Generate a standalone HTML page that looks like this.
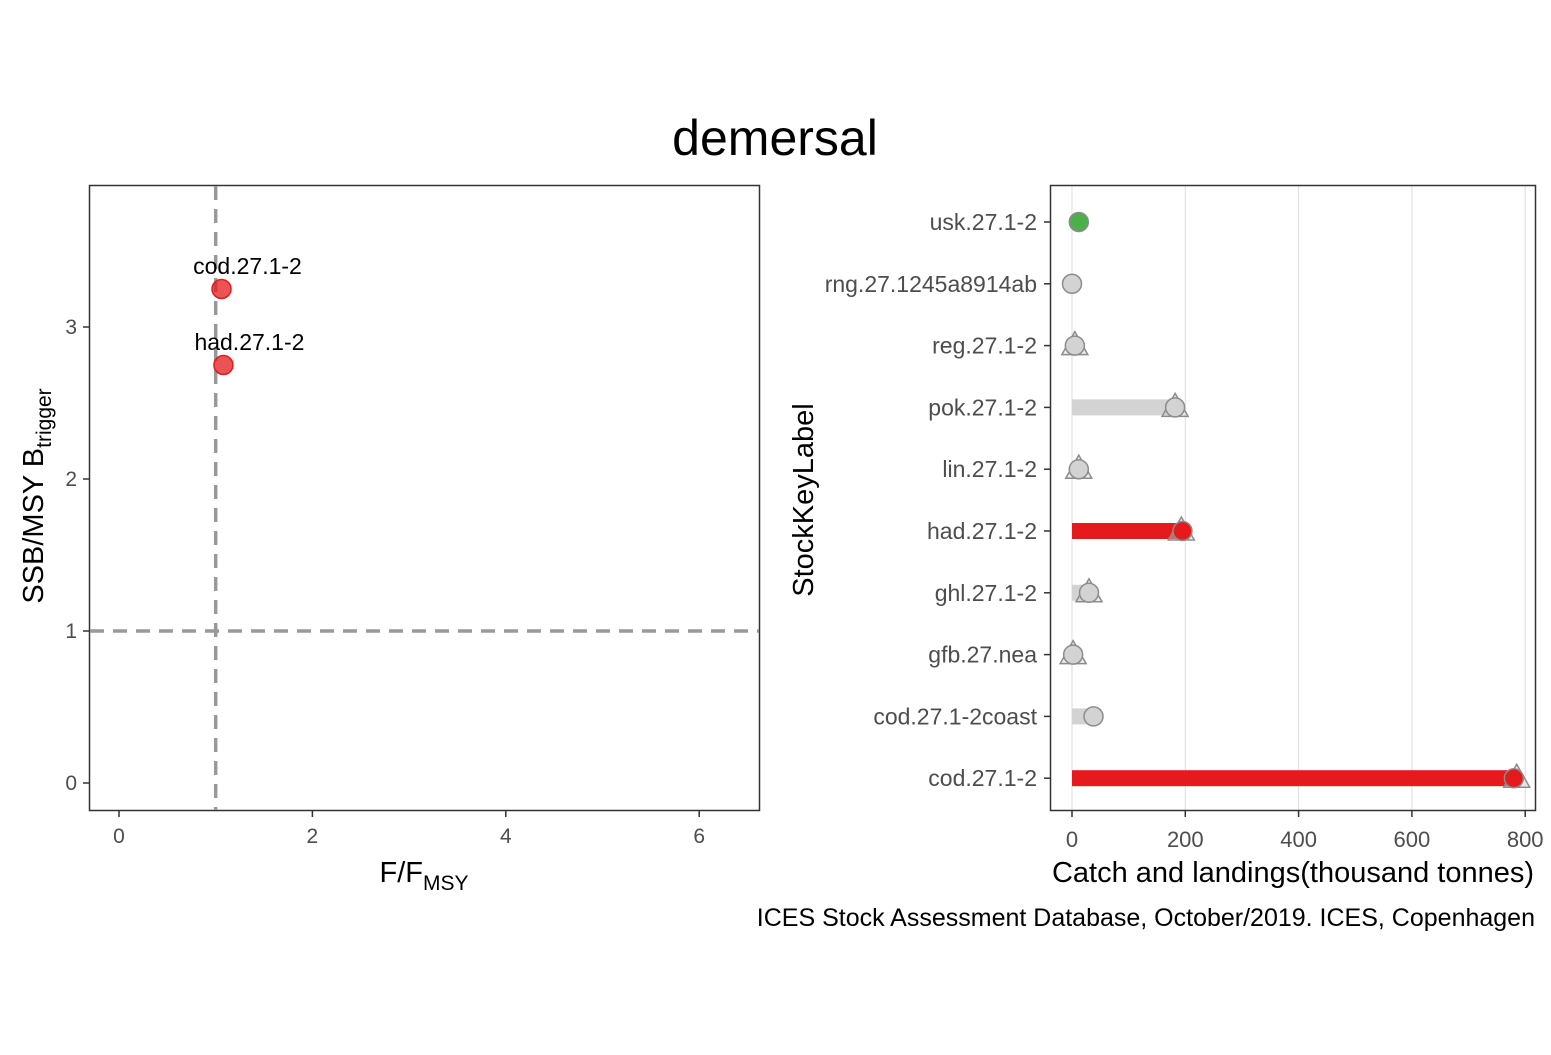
<!DOCTYPE html>
<html><head><meta charset="utf-8"><style>
body{margin:0;background:#fff;}
svg text{font-family:"Liberation Sans",sans-serif;}
</style></head><body>
<svg id="c" width="1551" height="1050" xmlns="http://www.w3.org/2000/svg">
<rect width="1551" height="1050" fill="#fff"/>
<text x="775" y="155" font-size="50" text-anchor="middle">demersal</text>
<g id="left"></g>
<g id="right"></g>
<text x="1535" y="926" font-size="25" text-anchor="end">ICES Stock Assessment Database, October/2019. ICES, Copenhagen</text>
</svg>
<script>
const kobeLabels=["cod.27.1-2","had.27.1-2"];
const kobeF=[1.06,1.08];
const kobeSSB=[3.25,2.75];
const xTicks=[0,2,4,6];
const yTicks=[0,1,2,3];
const stocks=["usk.27.1-2","rng.27.1245a8914ab","reg.27.1-2","pok.27.1-2","lin.27.1-2","had.27.1-2","ghl.27.1-2","gfb.27.nea","cod.27.1-2coast","cod.27.1-2"];
const landings=[12,0,5,182,12,195,30,2,38,780];
const catches=[null,null,5,182,12,193,30,2,null,785];
const barLen=[0,0,0,180,0,190,25,0,32,782];
const status=["green","grey","grey","grey","grey","red","grey","grey","grey","red"];
const cTicks=[0,200,400,600,800];
const NS="http://www.w3.org/2000/svg";
function mk(p,t,a,txt){const e=document.createElementNS(NS,t);for(const k in a)e.setAttribute(k,a[k]);if(txt!==undefined)e.textContent=txt;p.appendChild(e);return e;}
const col={red:"#e41a1c",grey:"#d3d3d3",green:"#4daf4a"};
const L=document.getElementById('left');
const lx=v=>119+v*96.7, ly=v=>783-v*152;
let e;
e=mk(L,'rect',{x:89.5,y:185.5,width:670,height:625,fill:'none',stroke:'#333','stroke-width':1.5});

e=mk(L,'line',{x1:lx(1),x2:lx(1),y1:186,y2:810,stroke:'#999','stroke-width':3.5,'stroke-dasharray':'14,9'});

e=mk(L,'line',{x1:90,x2:759,y1:ly(1),y2:ly(1),stroke:'#999','stroke-width':3.5,'stroke-dasharray':'14,9'});

xTicks.forEach(t=>{mk(L,'line',{x1:lx(t),x2:lx(t),y1:811,y2:817,stroke:'#333','stroke-width':1.5});
e=mk(L,'text',{x:lx(t),y:843,'font-size':21,fill:'#4d4d4d','text-anchor':'middle'},t);
});
yTicks.forEach(t=>{mk(L,'line',{x1:83,x2:89,y1:ly(t),y2:ly(t),stroke:'#333','stroke-width':1.5});
e=mk(L,'text',{x:77,y:ly(t)+7,'font-size':21,fill:'#4d4d4d','text-anchor':'end'},t);
});
kobeLabels.forEach((n,i)=>{
e=mk(L,'circle',{cx:lx(kobeF[i]),cy:ly(kobeSSB[i]),r:9.5,fill:'#e41a1c','fill-opacity':0.75,stroke:'#e41a1c','stroke-width':1.5});

e=mk(L,'text',{x:lx(kobeF[i])+26,y:ly(kobeSSB[i])-15,'font-size':23,'text-anchor':'middle'},n);
});
e=mk(L,'text',{x:424,y:882,'font-size':29,'text-anchor':'middle'});e.innerHTML='F/F<tspan font-size="21" dy="8">MSY</tspan>';

e=mk(L,'text',{transform:'translate(43,496) rotate(-90)','font-size':29,'text-anchor':'middle'});e.innerHTML='SSB/MSY B<tspan font-size="21" dy="8">trigger</tspan>';

const R=document.getElementById('right');
const rx=v=>1072+v*0.5665, ry=i=>222+i*61.8;
cTicks.forEach(t=>{e=mk(R,'line',{x1:rx(t),x2:rx(t),y1:186,y2:810,stroke:'#dcdcdc','stroke-width':1});

mk(R,'line',{x1:rx(t),x2:rx(t),y1:811,y2:817,stroke:'#333','stroke-width':1.5});
e=mk(R,'text',{x:rx(t),y:847,'font-size':22,fill:'#4d4d4d','text-anchor':'middle'},t);
});
stocks.forEach((s,i)=>{
mk(R,'line',{x1:1044,x2:1050,y1:ry(i),y2:ry(i),stroke:'#333','stroke-width':1.5});
e=mk(R,'text',{x:1037,y:ry(i)+8,'font-size':23,fill:'#4d4d4d','text-anchor':'end'},s);

if(barLen[i]>0){e=mk(R,'rect',{x:rx(0),y:ry(i)-8,width:rx(barLen[i])-rx(0),height:16,fill:col[status[i]]});
}
if(catches[i]!==null){const cx=rx(catches[i]),cy=ry(i)+1;
e=mk(R,'polygon',{points:`${cx},${cy-15} ${cx+13},${cy+8} ${cx-13},${cy+8}`,fill:'#d3d3d3','fill-opacity':0.4,stroke:'#8c8c8c','stroke-width':1.5});
}
e=mk(R,'circle',{cx:rx(landings[i]),cy:ry(i),r:9.5,fill:col[status[i]],stroke:'#8c8c8c','stroke-width':1.5});
});
e=mk(R,'rect',{x:1050.5,y:185.5,width:485,height:625,fill:'none',stroke:'#333','stroke-width':1.5});

e=mk(R,'text',{x:1293,y:882,'font-size':29,'text-anchor':'middle'},'Catch and landings(thousand tonnes)');

e=mk(R,'text',{transform:'translate(813,500) rotate(-90)','font-size':29,'text-anchor':'middle'},'StockKeyLabel');

</script>
</body></html>
